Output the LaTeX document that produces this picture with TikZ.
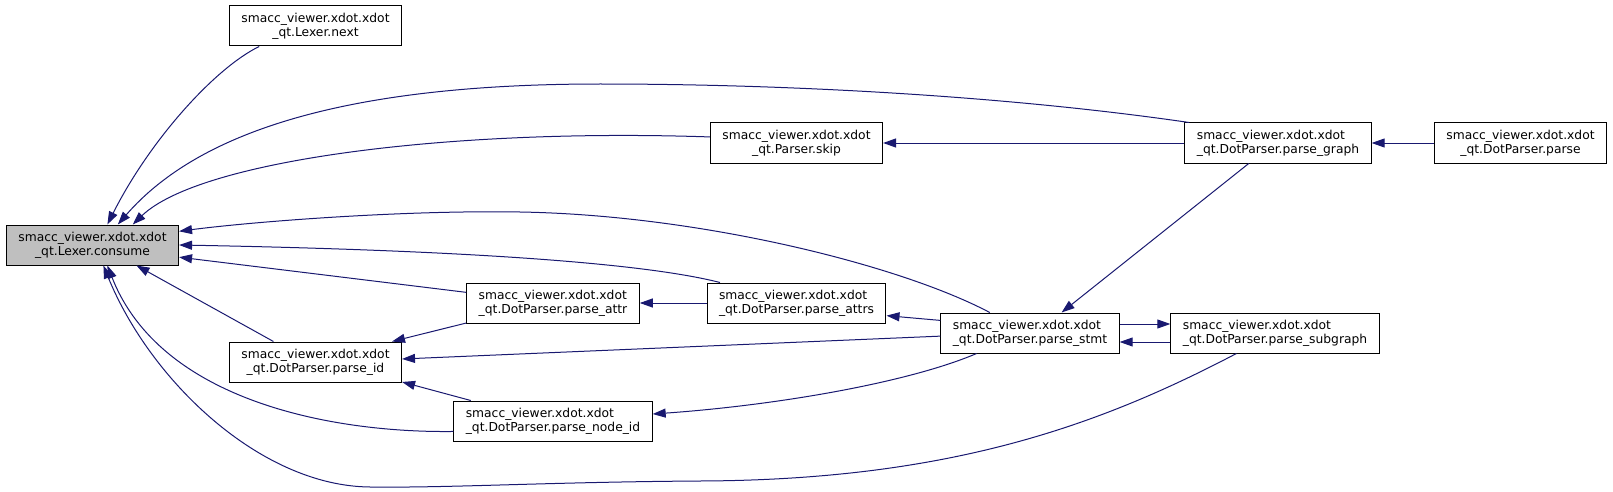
\documentclass[tikz,border=0pt]{standalone}
\usepackage{fontspec}
\setmainfont{DejaVu Sans}
\usetikzlibrary{arrows.meta}
\definecolor{edgeblue}{HTML}{191970}
\definecolor{curgray}{HTML}{BFBFBF}
\newcommand{\fnsize}{\fontsize{12.3}{14}\selectfont}

\begin{document}
\begin{tikzpicture}[x=1pt, y=-1pt,
    fn/.style={draw=black, fill=white, line width=1pt, inner xsep=12pt, inner ysep=0pt,
      minimum height=40pt, align=center, font=\fnsize},
    fnl/.style={fn, align=left},
    cur/.style={fn, fill=curgray},
    call/.style={draw=edgeblue, line width=1pt, -{Triangle[length=13pt,width=9pt]}}]
    \useasboundingbox (0,0) rectangle (1613,492);
    % functions
    \node[cur] (consume) at (92.5,245) {smacc\_viewer.xdot.xdot\\\_qt.Lexer.consume};
    \node[fn] (next) at (315.5,26) {smacc\_viewer.xdot.xdot\\\_qt.Lexer.next};
    \node[fn] (parseid) at (315.5,362) {smacc\_viewer.xdot.xdot\\\_qt.DotParser.parse\_id};
    \node[fn] (skip) at (796.5,143) {smacc\_viewer.xdot.xdot\\\_qt.Parser.skip};
    \node[fnl] (parseattr) at (553,303) {smacc\_viewer.xdot.xdot\\\_qt.DotParser.parse\_attr};
    \node[fnl] (parseattrs) at (796.5,303) {smacc\_viewer.xdot.xdot\\\_qt.DotParser.parse\_attrs};
    \node[fnl] (parsenodeid) at (553,421) {smacc\_viewer.xdot.xdot\\\_qt.DotParser.parse\_node\_id};
    \node[fnl] (parsestmt) at (1030,333) {smacc\_viewer.xdot.xdot\\\_qt.DotParser.parse\_stmt};
    \node[fnl] (parsegraph) at (1278,143) {smacc\_viewer.xdot.xdot\\\_qt.DotParser.parse\_graph};
    \node[fnl] (parsesub) at (1275,333) {smacc\_viewer.xdot.xdot\\\_qt.DotParser.parse\_subgraph};
    \node[fn] (parse) at (1520.5,143) {smacc\_viewer.xdot.xdot\\\_qt.DotParser.parse};

    % calls into consume
    \draw[call] (next.200) .. controls (215,68) and (150,140) .. (consume.54);
    \draw[call] (parsegraph.167) .. controls (1000,95) and (780,84) .. (600,84)
      .. controls (350,84) and (200,130) .. (consume.39);
    \draw[call] (skip.176) .. controls (450,128) and (200,160) .. (consume.27.5);
    \draw[call] (parsestmt.153.4) .. controls (900,265) and (700,215) .. (520,212)
      .. controls (400,210) and (250,222) .. (consume.9.7);
    \draw[call] (parseattrs.165.7) .. controls (640,262) and (450,250) .. (consume.east);
    \draw[call] (parseattr.173.6) -- (consume.-8.5);
    \draw[call] (parseid.154.8) -- (consume.-25);
    \draw[call] (parsenodeid.186.1) .. controls (330,433) and (160,400) .. (consume.-54);
    \draw[call] (parsesub.208.4) .. controls (1100,425) and (950,480) .. (700,481)
      .. controls (550,482) and (450,488) .. (370,487)
      .. controls (260,486) and (150,380) .. (consume.-62);

    % other calls
    \draw[call] (parsegraph.west) -- (skip.east);
    \draw[call] (parse.west) -- (parsegraph.east);
    \draw[call] (parsegraph.215.5) -- (parsestmt.33.7);
    \draw[call] ([yshift=9pt]parsestmt.east) -- ([yshift=9pt]parsesub.west);
    \draw[call] ([yshift=-9pt]parsesub.west) -- ([yshift=-9pt]parsestmt.east);
    \draw[call] (parseattrs.west) -- (parseattr.east);
    \draw[call] (parsestmt.172.6) -- (parseattrs.-8);
    \draw[call] (parseattr.193.9) -- (parseid.15);
    \draw[call] (parsestmt.182.5) -- (parseid.2.6);
    \draw[call] (parsenodeid.166.1) -- (parseid.-13.8);
    \draw[call] (parsestmt.201) .. controls (910,382) and (780,405) .. (parsenodeid.4.4);
\end{tikzpicture}
\end{document}
